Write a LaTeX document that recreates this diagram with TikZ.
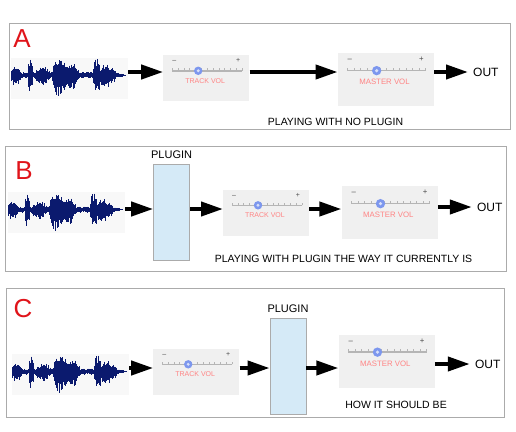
\documentclass[tikz,border=0pt]{standalone}
\usepackage{fontspec}
\setmainfont{Liberation Sans}
\usetikzlibrary{arrows.meta,positioning,calc}
\definecolor{panelgray}{HTML}{ABABAB}
\definecolor{volgray}{HTML}{F0F0F0}
\definecolor{plugblue}{HTML}{D5EAF7}
\definecolor{wavebg}{HTML}{F8F8F8}
\definecolor{wavenavy}{HTML}{0B1A6E}
\definecolor{letterred}{HTML}{E0141A}
\definecolor{volpink}{HTML}{FF8484}
\definecolor{knobblue}{HTML}{7D97EE}
\definecolor{tickgray}{HTML}{B5B5B5}
\tikzstyle{volbox} = [fill=volgray, rectangle, inner sep=0pt]
\tikzstyle{trackvol} = [volbox, minimum width=86pt, minimum height=46pt]
\tikzstyle{mastervol} = [volbox, minimum width=96pt, minimum height=53pt]
\tikzstyle{plugbox} = [draw=panelgray, fill=plugblue, rectangle, line width=0.8pt,
minimum width=36pt, minimum height=96pt, inner sep=0pt]
\tikzstyle{wavebox} = [fill=wavebg, rectangle, minimum width=117pt, minimum height=41pt, inner sep=0pt]
\tikzstyle{flow} = [line width=4pt, -{Triangle[length=22pt,width=14pt]}]
\tikzstyle{caption} = [font=\fontsize{10.5}{12}\selectfont, inner sep=0pt]
\tikzstyle{pluglabel} = [font=\fontsize{11}{13}\selectfont]
\tikzstyle{outlabel} = [font=\fontsize{12}{14}\selectfont, inner sep=5pt]
\tikzstyle{letter} = [text=letterred, font=\fontsize{26}{30}\selectfont, inner sep=0pt]
\tikzstyle{panel} = [draw=panelgray, line width=1pt]
% slider inside a volume box: box name, scale, label
\newcommand{\volslider}[3]{%
  \begin{scope}[shift={(#1.north west)}, scale=#2]
    \node[font=\fontsize{7}{8}\selectfont, text=black!70, transform shape] (#1Minus) at (11,7) {--};
    \node[font=\fontsize{7}{8}\selectfont, text=black!70, transform shape] (#1Plus) at (75,6) {+};
    \draw[tickgray, line width=1.4pt] (9,16) -- (79,16);
    \foreach \k in {0,...,12}
      \draw[tickgray, line width=0.6pt] ({9+\k*70/12},16) -- ++(0,-2.8);
    \fill[knobblue] (35,16) circle (4.2);
    \fill[knobblue!30!white] (35,16) circle (1.6);
    \node[text=volpink, font=\fontsize{7}{8}\selectfont, transform shape] (#1Label) at (42,26) {#3};
  \end{scope}}
% waveform inside a wave box
\newcommand{\wavefill}[1]{%
  \pgfmathsetseed{4242}
  \begin{scope}[shift={(#1.west)}, yshift=3pt]
    \foreach \t in {1,...,115} {
      \pgfmathsetmacro\env{1.15*(2.5 + 6*max(0,1-((\t-5)/6)*((\t-5)/6))
        + 13*max(0,1-((\t-20)/3)*((\t-20)/3))
        + 5*max(0,1-((\t-32)/8)*((\t-32)/8))
        + 15*max(0,1-((\t-49)/8)*((\t-49)/8))
        + 9*max(0,1-((\t-62)/7)*((\t-62)/7))
        + 12*max(0,1-((\t-86)/4)*((\t-86)/4))
        + 7*max(0,1-((\t-96)/10)*((\t-96)/10)))*min(1,(116-\t)/12)}
      \pgfmathsetmacro\up{min(19,\env*(0.5+0.5*rnd))}
      \pgfmathsetmacro\down{min(22,\env*(0.6+0.6*rnd))}
      \draw[wavenavy, line width=1.25pt] (\t,-\up) -- (\t,\down);
    }
    \fill[wavenavy] (1,-1.5) rectangle (112,1.8);
  \end{scope}}

\begin{document}
\begin{tikzpicture}[x=1pt, y=-1pt]
	\useasboundingbox (0,0) rectangle (516,431);
	% A
	\draw[panel] (9,23) rectangle (510,129);
	\node [letter] (LetterA) at (22,38.5) {A};
	\node [wavebox] (WaveA) at (69.5,78) {};
	\node [trackvol, right=35pt of WaveA] (TrackA) {};
	\node [mastervol, right=88pt of TrackA, yshift=-1.5pt] (MasterA) {};
	\node [outlabel, right=34pt of MasterA, yshift=7.5pt] (OutA) {OUT};
	\node [caption] (CaptionA) at (335.5,122) {PLAYING WITH NO PLUGIN};
	\wavefill{WaveA}
	\volslider{TrackA}{1}{TRACK VOL}
	\volslider{MasterA}{1.116}{MASTER VOL}
	\coordinate (RowA) at (0,72);
	\draw [flow] (WaveA.east |- RowA) -- (TrackA.west |- RowA);
	\draw [flow] (TrackA.east |- RowA) -- (MasterA.west |- RowA);
	\draw [flow] (MasterA.east |- OutA) -- (OutA.west);
	
	% B
	\draw[panel] (5,146) rectangle (506,271);
	\node [letter] (LetterB) at (24,170.5) {B};
	\node [wavebox] (WaveB) at (66.5,212.5) {};
	\node [plugbox, right=28pt of WaveB] (PluginB) {};
	\node [pluglabel, above=2pt of PluginB] (PluginBLabel) {PLUGIN};
	\node [trackvol, right=33pt of PluginB] (TrackB) {};
	\node [mastervol, right=32pt of TrackB] (MasterB) {};
	\node [outlabel, right=34pt of MasterB, yshift=5.5pt] (OutB) {OUT};
	\node [caption] (CaptionB) at (343.5,259) {PLAYING WITH PLUGIN THE WAY IT CURRENTLY IS};
	\wavefill{WaveB}
	\volslider{TrackB}{1}{TRACK VOL}
	\volslider{MasterB}{1.116}{MASTER VOL}
	\coordinate (RowB) at (0,209);
	\draw [flow] (WaveB.east |- RowB) -- (PluginB.west |- RowB);
	\draw [flow] (PluginB.east |- RowB) -- (TrackB.west |- RowB);
	\draw [flow] (TrackB.east |- RowB) -- (MasterB.west |- RowB);
	\draw [flow] (MasterB.east |- OutB) -- (OutB.west);
	
	% C
	\draw[panel] (6,288) rectangle (504,417);
	\node [letter] (LetterC) at (23,308.5) {C};
	\node [wavebox] (WaveC) at (70.5,374.5) {};
	\node [trackvol, right=24pt of WaveC, yshift=3pt] (TrackC) {};
	\node [plugbox, right=30pt of TrackC, yshift=5pt] (PluginC) {};
	\node [pluglabel, above=1.5pt of PluginC] (PluginCLabel) {PLUGIN};
	\node [mastervol, right=32pt of PluginC, yshift=5.5pt] (MasterC) {};
	\node [outlabel, right=35pt of MasterC, yshift=-3pt] (OutC) {OUT};
	\node [caption] (CaptionC) at (396,405) {HOW IT SHOULD BE};
	\wavefill{WaveC}
	\volslider{TrackC}{1}{TRACK VOL}
	\volslider{MasterC}{1.116}{MASTER VOL}
	\coordinate (RowC) at (0,368);
	\draw [flow] (WaveC.east |- RowC) -- (TrackC.west |- RowC);
	\draw [flow] (TrackC.east |- RowC) -- (PluginC.west |- RowC);
	\draw [flow] (PluginC.east |- RowC) -- (MasterC.west |- RowC);
	\draw [flow] (MasterC.east |- OutC) -- (OutC.west);
	
\end{tikzpicture}
\end{document}
